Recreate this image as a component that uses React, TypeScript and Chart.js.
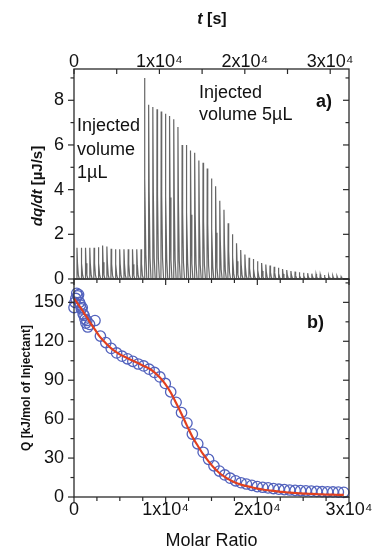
import React, { useEffect, useRef } from 'react';
import { Chart, registerables } from 'chart.js';

Chart.register(...registerables);

const FONT = '"Liberation Sans", Arial, "DejaVu Sans", sans-serif';
const W = 373;
const H = 554;

// ---------- panel a) : thermogram ----------
const INJ_TIME_1UL = [350, 850, 1350, 1850, 2350, 2850, 3350, 3850, 4350, 4850, 5350, 5850, 6350, 6850, 7350, 7850];
const PEAK_1UL = [1.4, 1.4, 1.4, 1.4, 1.4, 1.42, 1.5, 1.45, 1.35, 1.33, 1.33, 1.33, 1.33, 1.33, 1.33, 1.33];
const INJ_TIME_5UL = [
  8250, 8740, 9230, 9720, 10210, 10700, 11190, 11680, 12170, 12660,
  13150, 13640, 14130, 14620, 15110, 15600, 16090, 16580, 17070, 17560,
  18050, 18540, 19030, 19520, 20010, 20500, 20990, 21480, 21970, 22460,
  22950, 23440, 23930, 24420, 24910, 25400, 25890, 26380, 26870, 27360,
  27850, 28340, 28830, 29320, 29810, 30300, 30790, 31280,
];
const PEAK_5UL = [
  9.0, 7.8, 7.7, 7.6, 7.5, 7.4, 7.3, 7.15, 6.8, 6.0,
  6.0, 5.75, 5.65, 5.3, 5.2, 4.95, 4.5, 4.15, 3.5, 3.1,
  2.5, 2.0, 1.6, 1.3, 1.1, 0.95, 0.9, 0.8, 0.72, 0.65,
  0.6, 0.55, 0.5, 0.45, 0.4, 0.36, 0.33, 0.3, 0.28, 0.26,
  0.24, 0.22, 0.2, 0.18, 0.16, 0.15, 0.13, 0.1,
];
const TIME_TICKS = [0, 10000, 20000, 30000];
const TIME_TICK_LABELS = ['0', '1x10⁴', '2x10⁴', '3x10⁴'];
const DQDT_TICKS = [0, 2, 4, 6, 8];

// ---------- panel b) : integrated heats ----------
const MOLAR_RATIO = [
  0, 100, 200, 300, 400, 500, 600, 700, 800, 900, 1000, 1100, 1200, 1300, 1400, 1500,
  1700, 2290, 2880, 3470, 4060, 4650, 5240, 5830, 6420, 7010,
  7600, 8190, 8780, 9370, 9960, 10550, 11140, 11730, 12320, 12910,
  13500, 14090, 14680, 15270, 15860, 16450, 17040, 17630, 18220, 18810,
  19400, 19990, 20580, 21170, 21760, 22350, 22940, 23530, 24120, 24710,
  25300, 25890, 26480, 27070, 27660, 28250, 28840, 29430,
];
const Q_DATA = [
  146, 150, 153, 157, 155, 156, 150, 148, 145, 146, 141, 140, 137, 134, 136, 131,
  133, 136, 124, 119, 114.5, 111, 108.5, 106.5, 104.5, 102.5,
  101, 98.5, 96, 92.5, 87.5, 81, 73, 65, 57, 48.5,
  41, 34.5, 29, 24, 20, 17, 14.5, 12.5, 11, 10,
  9, 8, 7.5, 7, 6.5, 6, 5.7, 5.4, 5.1, 4.9,
  4.7, 4.5, 4.3, 4.1, 4, 3.9, 3.8, 3.6,
];
const Q_FIT = [
  153, 152, 151, 150, 149, 148, 147, 146, 145, 144, 143, 141.5, 140.5, 139.5, 138.5, 137.5,
  135, 129, 123, 118.5, 114.5, 111.5, 109, 107, 105, 103,
  101, 99, 96, 92, 87, 80.5, 72.5, 64, 55, 46.5,
  39.5, 33, 27.5, 22.5, 18.5, 15.5, 13, 11, 9.5, 8.5,
  7.5, 6.5, 5.8, 5.2, 4.7, 4.2, 3.8, 3.4, 3.1, 2.8,
  2.6, 2.4, 2.2, 2.0, 1.9, 1.8, 1.7, 1.6,
];
const RATIO_TICKS = [0, 10000, 20000, 30000];
const RATIO_TICK_LABELS = ['0', '1x10⁴', '2x10⁴', '3x10⁴'];
const Q_TICKS = [0, 30, 60, 90, 120, 150];

// ---------- helpers ----------
function buildTrace(times: number[], peaks: number[], out: { x: number; y: number }[]) {
  times.forEach((t, i) => {
    const h = peaks[i];
    out.push({ x: t - 30, y: 0 }, { x: t, y: h }, { x: t + 60, y: h * 0.5 }, { x: t + 160, y: h * 0.12 }, { x: t + 280, y: 0 });
  });
}

type EdgeSpec = [string, number];
type TickSpec = { scale: string; minor: number; majLen: number; minLen: number; edges: EdgeSpec[] };

function frameTicksPlugin(specs: TickSpec[]) {
  return {
    id: 'frameTicks',
    afterDatasetsDraw(chart: any) {
      const { ctx, chartArea: a } = chart;
      ctx.save();
      ctx.strokeStyle = '#2a2a2a';
      ctx.lineWidth = 1.3;
      ctx.strokeRect(a.left, a.top, a.right - a.left, a.bottom - a.top);
      ctx.lineWidth = 1.2;
      for (const spec of specs) {
        const sc = chart.scales[spec.scale];
        const majors = sc.ticks.map((t: any) => t.value);
        const n = spec.minor + 1;
        const step = (majors[1] - majors[0]) / n;
        const start = Math.ceil((sc.min - majors[0]) / step - 1e-9);
        const end = Math.floor((sc.max - majors[0]) / step + 1e-9);
        for (let k = start; k <= end; k++) {
          const v = majors[0] + k * step;
          const isMajor = Math.abs(k % n) === 0;
          const len = isMajor ? spec.majLen : spec.minLen;
          const p = sc.getPixelForValue(v);
          for (const [edge, dir] of spec.edges) {
            ctx.beginPath();
            if (edge === 'left') { ctx.moveTo(a.left, p); ctx.lineTo(a.left - dir * len, p); }
            if (edge === 'right') { ctx.moveTo(a.right, p); ctx.lineTo(a.right + dir * len, p); }
            if (edge === 'top') { ctx.moveTo(p, a.top); ctx.lineTo(p, a.top - dir * len); }
            if (edge === 'bottom') { ctx.moveTo(p, a.bottom); ctx.lineTo(p, a.bottom + dir * len); }
            ctx.stroke();
          }
        }
      }
      ctx.restore();
    },
  };
}

type Part = { t: string; f: string };
type LabelItem = { x: number; y: number; parts: Part[]; align?: string; rot?: number; baseline?: string };

function labelPlugin(items: LabelItem[]) {
  return {
    id: 'labels',
    afterDraw(chart: any) {
      const ctx = chart.ctx;
      for (const it of items) {
        ctx.save();
        ctx.translate(it.x, it.y);
        if (it.rot) ctx.rotate((it.rot * Math.PI) / 180);
        ctx.fillStyle = '#111';
        ctx.textBaseline = it.baseline || 'alphabetic';
        ctx.textAlign = 'left';
        let total = 0;
        for (const p of it.parts) { ctx.font = p.f; total += ctx.measureText(p.t).width; }
        let x = it.align === 'center' ? -total / 2 : 0;
        for (const p of it.parts) { ctx.font = p.f; ctx.fillText(p.t, x, 0); x += ctx.measureText(p.t).width; }
        ctx.restore();
      }
    },
  };
}

const fixY = (w: number) => (s: any) => { s.width = w; s.paddingTop = 0; s.paddingBottom = 0; };
const fixX = (h: number) => (s: any) => { s.height = h; s.paddingLeft = 0; s.paddingRight = 0; };
const TICK_FONT = { size: 18, family: FONT };

function topConfig(): any {
  const trace: { x: number; y: number }[] = [];
  buildTrace(INJ_TIME_1UL, PEAK_1UL, trace);
  buildTrace(INJ_TIME_5UL, PEAK_5UL, trace);
  const f = (s: string) => `${s} ${FONT}`;
  return {
    type: 'scatter',
    data: {
      datasets: [{ data: trace, showLine: true, borderColor: '#666666', borderWidth: 1.2, pointRadius: 0, fill: false, tension: 0 }],
    },
    options: {
      responsive: false, animation: false, events: [],
      layout: { padding: { left: 0, right: 24, top: 0, bottom: H - 279 } },
      plugins: { legend: { display: false }, tooltip: { enabled: false } },
      scales: {
        x: {
          type: 'linear', position: 'top', min: 0, max: 32200,
          afterBuildTicks: (s: any) => { s.ticks = TIME_TICKS.map((v) => ({ value: v })); },
          afterFit: fixX(69),
          grid: { display: false, drawTicks: false }, border: { display: false },
          ticks: { padding: -4, maxRotation: 0, autoSkip: false, font: TICK_FONT, color: '#111', callback: (_v: any, i: number) => TIME_TICK_LABELS[i] },
        },
        y: {
          type: 'linear', position: 'left', min: 0, max: 9.4,
          afterBuildTicks: (s: any) => { s.ticks = DQDT_TICKS.map((v) => ({ value: v })); },
          afterFit: fixY(74),
          grid: { display: false, drawTicks: false }, border: { display: false },
          ticks: { padding: 10, font: TICK_FONT, color: '#111' },
        },
      },
    },
    plugins: [
      frameTicksPlugin([
        { scale: 'y', minor: 1, majLen: 6, minLen: 3.5, edges: [['left', 1], ['right', -1]] },
        { scale: 'x', minor: 1, majLen: 5, minLen: 5, edges: [['top', -1]] },
      ]),
      labelPlugin([
        { x: 212, y: 20, align: 'center', baseline: 'middle', parts: [{ t: 't', f: f('italic bold 16px') }, { t: ' [s]', f: f('bold 16px') }] },
        { x: 38, y: 186, rot: -90, align: 'center', baseline: 'middle', parts: [{ t: 'dq/dt', f: f('italic bold 15px') }, { t: ' [µJ/s]', f: f('bold 15px') }] },
        { x: 77, y: 131, parts: [{ t: 'Injected', f: f('18px') }] },
        { x: 77, y: 155, parts: [{ t: 'volume', f: f('18px') }] },
        { x: 77, y: 178, parts: [{ t: '1µL', f: f('18px') }] },
        { x: 199, y: 98, parts: [{ t: 'Injected', f: f('18px') }] },
        { x: 199, y: 120, parts: [{ t: 'volume 5µL', f: f('18px') }] },
        { x: 316, y: 107, parts: [{ t: 'a)', f: f('bold 18px') }] },
      ]),
    ],
  };
}

function bottomConfig(): any {
  const f = (s: string) => `${s} ${FONT}`;
  const fit = MOLAR_RATIO.map((x, i) => ({ x, y: Q_FIT[i] }));
  const pts = MOLAR_RATIO.map((x, i) => ({ x, y: Q_DATA[i] }));
  return {
    type: 'scatter',
    data: {
      datasets: [
        { data: fit, showLine: true, borderColor: '#e2401f', borderWidth: 2.2, pointRadius: 0, fill: false, cubicInterpolationMode: 'monotone' },
        { data: pts, showLine: false, pointRadius: 5.2, pointBorderWidth: 1.3, pointBorderColor: '#5262bd', pointBackgroundColor: 'rgba(0,0,0,0)', clip: false },
      ],
    },
    options: {
      responsive: false, animation: false, events: [],
      layout: { padding: { left: 0, right: 24, top: 279, bottom: 0 } },
      plugins: { legend: { display: false }, tooltip: { enabled: false } },
      scales: {
        x: {
          type: 'linear', position: 'bottom', min: 0, max: 30000,
          afterBuildTicks: (s: any) => { s.ticks = RATIO_TICKS.map((v) => ({ value: v })); },
          afterFit: fixX(H - 497),
          grid: { display: false, drawTicks: false }, border: { display: false },
          ticks: { padding: 2, maxRotation: 0, autoSkip: false, font: TICK_FONT, color: '#111', callback: (_v: any, i: number) => RATIO_TICK_LABELS[i] },
          title: { display: true, text: 'Molar Ratio', color: '#111', font: { size: 18, family: FONT }, padding: { top: 0, bottom: 2 } },
        },
        y: {
          type: 'linear', position: 'left', min: 0, max: 168,
          afterBuildTicks: (s: any) => { s.ticks = Q_TICKS.map((v) => ({ value: v })); },
          afterFit: fixY(74),
          grid: { display: false, drawTicks: false }, border: { display: false },
          ticks: { padding: 10, font: TICK_FONT, color: '#111' },
          title: { display: true, text: 'Q [kJ/mol of Injectant]', color: '#111', font: { size: 12, weight: 'bold', family: FONT }, padding: { top: 19, bottom: 0 } },
        },
      },
    },
    plugins: [
      frameTicksPlugin([
        { scale: 'y', minor: 1, majLen: 6, minLen: 3.5, edges: [['left', 1], ['right', -1]] },
        { scale: 'x', minor: 3, majLen: 6, minLen: 4, edges: [['bottom', 1], ['top', -1]] },
      ]),
      labelPlugin([{ x: 307, y: 328, parts: [{ t: 'b)', f: f('bold 18px') }] }]),
    ],
  };
}

export default function App() {
  const topRef = useRef<HTMLCanvasElement>(null);
  const botRef = useRef<HTMLCanvasElement>(null);
  useEffect(() => {
    const top = new Chart(topRef.current as HTMLCanvasElement, topConfig());
    const bot = new Chart(botRef.current as HTMLCanvasElement, bottomConfig());
    return () => { top.destroy(); bot.destroy(); };
  }, []);
  return (
    <div style={{ position: 'absolute', left: 0, top: 0, width: W, height: H, background: '#fff' }}>
      <canvas ref={botRef} width={W} height={H} style={{ position: 'absolute', left: 0, top: 0 }} />
      <canvas ref={topRef} width={W} height={H} style={{ position: 'absolute', left: 0, top: 0 }} />
    </div>
  );
}
